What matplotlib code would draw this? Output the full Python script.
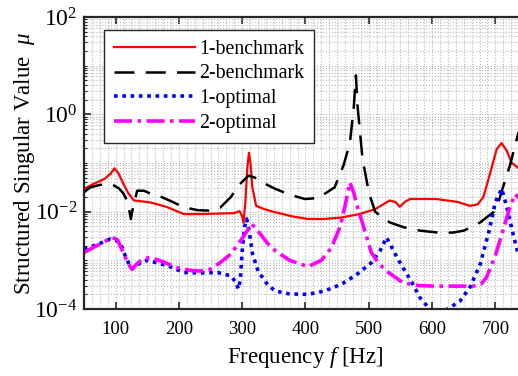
import numpy as np
import matplotlib
matplotlib.use("Agg")
import matplotlib.pyplot as plt
from matplotlib.ticker import FixedLocator, LogLocator, MultipleLocator, NullFormatter, LogFormatterMathtext

plt.rcParams['font.family'] = ['Liberation Serif', 'DejaVu Serif']
plt.rcParams['mathtext.fontset'] = 'custom'
plt.rcParams['mathtext.rm'] = 'Liberation Serif'
plt.rcParams['mathtext.it'] = 'Liberation Serif:italic'

# 1-benchmark (frequency in Hz, log10 of mu)
f_b1 = [50, 65, 82, 92, 98, 104, 112, 120, 129, 155, 180, 208, 234, 260, 287, 296, 300, 302, 305, 308,
        310.7, 313, 316, 322, 335, 352, 380, 404, 430, 457, 485, 510, 533, 542, 549, 557, 565, 607, 640,
        660, 672, 681, 692, 702, 710, 718, 726, 736, 745]
mu_b1 = [-1.53, -1.43, -1.33, -1.22, -1.11, -1.20, -1.42, -1.62, -1.77, -1.81, -1.90, -2.05, -2.05, -2.04,
         -2.03, -1.99, -2.10, -2.22, -1.80, -1.10, -0.79, -1.00, -1.50, -1.88, -1.95, -2.01, -2.10, -2.15,
         -2.15, -2.12, -2.05, -1.95, -1.77, -1.80, -1.90, -1.80, -1.74, -1.74, -1.80, -1.88, -1.85, -1.70,
         -1.20, -0.72, -0.59, -0.75, -1.00, -1.10, -1.15]

# 2-benchmark
f_b2 = [50, 60, 75, 90, 97, 105, 112, 118, 122, 124, 127, 134, 145, 160, 171, 190, 208, 230, 250, 265,
        282, 295, 310, 320, 335, 352, 375, 399, 420, 446, 460, 470, 476, 479.7, 482, 490, 500, 510, 520,
        533, 555, 581, 610, 633, 650, 665, 676, 697, 705, 712, 723, 736, 745]
mu_b2 = [-1.60, -1.50, -1.45, -1.43, -1.46, -1.52, -1.62, -1.77, -2.00, -2.15, -1.95, -1.57, -1.57, -1.66,
         -1.69, -1.80, -1.91, -1.97, -1.98, -1.92, -1.70, -1.45, -1.26, -1.30, -1.42, -1.53, -1.65, -1.74,
         -1.72, -1.50, -1.05, -0.60, 0.10, 0.80, 0.20, -0.90, -1.60, -2.00, -2.10, -2.22, -2.32, -2.39,
         -2.43, -2.43, -2.39, -2.30, -2.22, -2.01, -1.80, -1.50, -1.05, -0.40, -0.10]

# 1-optimal
f_o1 = [50, 70, 92, 100, 108, 115, 122, 126, 132, 140, 150, 165, 182, 208, 235, 261, 282, 290, 294, 297,
        300, 304, 307, 311, 316, 325, 340, 352, 375, 404, 430, 457, 480, 504, 518, 528, 535, 545, 554, 568,
        581, 595, 607, 622, 644, 660, 676, 690, 700, 710, 718, 728, 736, 745]
mu_o1 = [-2.77, -2.68, -2.56, -2.58, -2.67, -2.90, -3.10, -3.18, -3.12, -3.04, -3.00, -3.05, -3.11, -3.25,
         -3.26, -3.25, -3.32, -3.45, -3.59, -3.40, -2.80, -2.30, -2.15, -2.40, -2.85, -3.22, -3.50, -3.63,
         -3.69, -3.70, -3.63, -3.49, -3.30, -3.05, -2.80, -2.53, -2.70, -2.95, -3.15, -3.45, -3.77, -3.98,
         -4.08, -4.02, -3.84, -3.55, -3.08, -2.40, -1.80, -1.53, -1.90, -2.46, -2.87, -3.10]

# 2-optimal
f_o2 = [50, 70, 95, 103, 113, 120, 126, 133, 143, 155, 175, 197, 220, 234, 250, 265, 282, 300, 315, 325,
        340, 352, 375, 404, 425, 441, 455, 463, 470, 476, 483, 489, 504, 515, 528, 554, 580, 607, 640, 665,
        678, 686, 700, 712, 722, 731, 740]
mu_o2 = [-2.84, -2.70, -2.53, -2.58, -2.87, -3.08, -3.18, -3.08, -2.97, -2.94, -3.03, -3.15, -3.21, -3.22,
         -3.18, -3.05, -2.87, -2.55, -2.25, -2.40, -2.65, -2.80, -3.00, -3.13, -3.00, -2.74, -2.30, -1.85,
         -1.40, -1.60, -1.95, -2.19, -2.84, -3.05, -3.22, -3.46, -3.52, -3.53, -3.53, -3.53, -3.48, -3.35,
         -2.90, -2.39, -1.95, -1.64, -1.75]

labels = ['1-benchmark', '2-benchmark', '1-optimal', '2-optimal']
y_ticks = [1e-4, 1e-2, 1e0, 1e2]
x_ticks = [100, 200, 300, 400, 500, 600, 700]

W, H = 518, 376
fig = plt.figure(figsize=(W / 100, H / 100), dpi=100)
# axes run past the right edge of the figure, like the cropped original
ax = fig.add_axes([84 / W, (H - 309) / H, (527 - 84) / W, (309 - 17) / H])

ax.plot(f_b1, 10 ** np.array(mu_b1), color='#ff0000', lw=1.6, label=labels[0])
ax.plot(f_b2, 10 ** np.array(mu_b2), color='black', lw=1.8, linestyle=(0, (8, 4.5)), label=labels[1])
ax.plot(f_o1, 10 ** np.array(mu_o1), color='#0000ff', lw=2.6, linestyle=(0, (1, 1.3)), label=labels[2])
ax.plot(f_o2, 10 ** np.array(mu_o2), color='#ff00ff', lw=2.6, linestyle=(0, (5, 1.5, 1, 1.5)), label=labels[3])

ax.set_yscale('log')
ax.set_xlim(50, 750)
ax.set_ylim(1e-4, 1e2)

ax.yaxis.set_major_locator(FixedLocator(y_ticks))
ax.yaxis.set_major_formatter(LogFormatterMathtext())
ax.yaxis.set_minor_locator(LogLocator(base=10, subs=np.arange(1, 10), numticks=30))
ax.yaxis.set_minor_formatter(NullFormatter())
ax.xaxis.set_major_locator(FixedLocator(x_ticks))
ax.xaxis.set_minor_locator(MultipleLocator(12.5))

ax.grid(True, which='both', color='0.72', linestyle=':', lw=0.8)
ax.tick_params(which='both', direction='in', top=True, right=False, color='#262626')
ax.tick_params(which='major', length=5, width=1.2)
ax.tick_params(which='minor', length=2.5, width=0.8)
ax.tick_params(axis='x', which='minor', length=0)
ax.tick_params(axis='x', labelsize=13.5, pad=9)
ax.tick_params(axis='y', labelsize=17, pad=5)
for s in ['left', 'bottom', 'top']:
    ax.spines[s].set_linewidth(1.6)
    ax.spines[s].set_color('#262626')
ax.spines['right'].set_visible(False)

ax.set_xlabel('Frequency $f$ [Hz]', fontsize=16.5, labelpad=5)
ax.set_ylabel('Structured Singular Value  $\\mu$', fontsize=16.5, labelpad=-2)

leg = ax.legend(loc='upper left', bbox_to_anchor=(20 / 443, 1 - 13 / 292), borderaxespad=0,
                fontsize=14.3, handlelength=4.1, handletextpad=0.2, labelspacing=0.28,
                borderpad=0.5, fancybox=False, framealpha=1)
leg.get_frame().set_edgecolor('#262626')
leg.get_frame().set_linewidth(1.0)

fig.savefig('out.png', dpi=100)
